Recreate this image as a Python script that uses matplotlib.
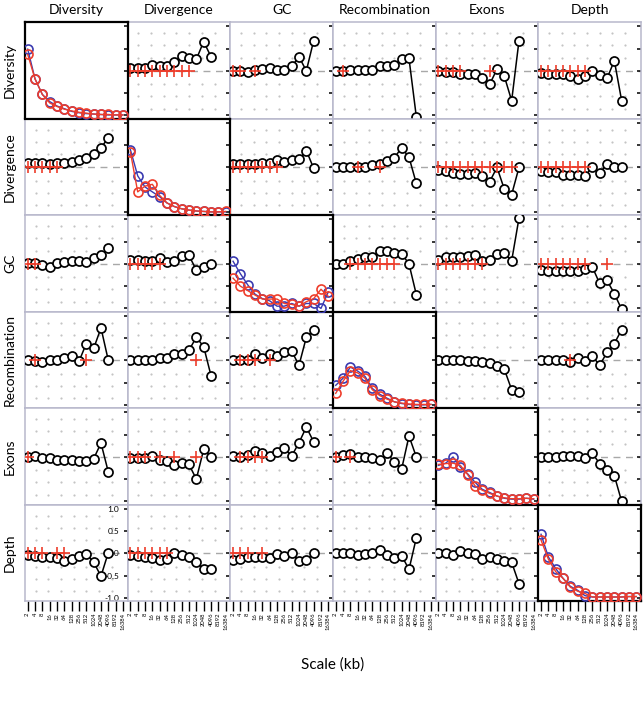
import numpy as np
import matplotlib.pyplot as plt
from matplotlib.ticker import NullLocator

plt.rcParams['font.family'] = ['Lato', 'DejaVu Sans']

variables = ['Diversity', 'Divergence', 'GC', 'Recombination', 'Exons', 'Depth']
scales = [2, 4, 8, 16, 32, 64, 128, 256, 512, 1024, 2048, 4096, 8192, 16384]
pair_scales = scales[:12]

# correlations between variables at each scale (row variable vs column variable)
div_dvg = [0.07, 0.07, 0.07, 0.14, 0.10, 0.12, 0.20, 0.34, 0.30, 0.26, 0.66, 0.32]
div_gc = [0.0, 0.0, -0.03, 0.02, 0.05, 0.07, 0.03, 0.02, 0.10, 0.32, 0.0, 0.68]
div_rec = [0.0, 0.0, 0.01, 0.02, 0.02, 0.03, 0.10, 0.10, 0.13, 0.27, 0.28, -1.03]
div_exo = [0.0, -0.02, -0.03, -0.07, -0.07, -0.06, -0.17, -0.30, 0.04, -0.12, -0.67, 0.68]
div_dep = [-0.04, -0.07, -0.08, -0.08, -0.11, -0.19, -0.11, 0.0, -0.09, -0.17, 0.23, -0.67]

dvg_div = [0.10, 0.10, 0.10, 0.08, 0.10, 0.10, 0.12, 0.16, 0.22, 0.30, 0.44, 0.67]
dvg_gc = [0.08, 0.08, 0.08, 0.08, 0.09, 0.10, 0.17, 0.13, 0.16, 0.18, 0.38, -0.02]
dvg_rec = [0.0, 0.0, 0.0, 0.01, 0.02, 0.06, 0.08, 0.15, 0.22, 0.44, 0.23, -0.36]
dvg_exo = [-0.05, -0.07, -0.12, -0.14, -0.14, -0.12, -0.20, -0.32, 0.0, -0.49, -0.61, 0.0]
dvg_dep = [-0.08, -0.11, -0.11, -0.17, -0.17, -0.18, -0.20, 0.02, -0.13, 0.08, 0.02, 0.0]

gc_div = [0.02, 0.02, -0.02, -0.06, 0.02, 0.05, 0.07, 0.07, 0.05, 0.13, 0.20, 0.36]
gc_dvg = [0.09, 0.09, 0.07, 0.07, 0.13, 0.05, 0.07, 0.17, 0.19, -0.14, -0.06, 0.0]
gc_rec = [0.0, 0.0, 0.06, 0.10, 0.16, 0.16, 0.30, 0.30, 0.25, 0.23, 0.0, -0.69]
gc_exo = [0.09, 0.15, 0.15, 0.15, 0.17, 0.20, 0.07, 0.09, 0.22, 0.24, 0.07, 1.03]
gc_dep = [-0.14, -0.16, -0.16, -0.16, -0.16, -0.17, -0.12, -0.07, -0.44, -0.37, -0.67, -1.02]

rec_div = [0.0, -0.02, -0.03, 0.0, 0.02, 0.06, 0.10, -0.02, 0.38, 0.27, 0.73, 0.0]
rec_dvg = [0.0, 0.0, 0.0, 0.02, 0.05, 0.06, 0.14, 0.14, 0.23, 0.52, 0.31, -0.34]
rec_gc = [0.0, 0.0, 0.02, 0.15, 0.06, 0.14, 0.10, 0.18, 0.21, -0.11, 0.52, 0.69]
rec_exo = [0.0, 0.0, 0.0, 0.0, -0.01, -0.02, -0.04, -0.06, -0.12, -0.20, -0.66, -0.70]
rec_dep = [0.0, 0.0, 0.0, 0.0, -0.03, 0.05, -0.01, 0.10, -0.11, 0.18, 0.38, 0.69]

exo_div = [0.0, 0.02, -0.02, -0.02, -0.06, -0.06, -0.08, -0.09, -0.09, -0.04, 0.31, -0.34]
exo_dvg = [-0.02, -0.02, -0.02, 0.02, -0.08, -0.09, -0.19, -0.14, -0.17, -0.50, 0.17, 0.0]
exo_gc = [0.02, 0.0, 0.04, 0.14, 0.08, 0.02, 0.11, 0.19, 0.02, 0.32, 0.67, 0.34]
exo_rec = [0.0, 0.04, 0.06, 0.0, 0.0, -0.02, -0.06, 0.08, -0.11, -0.27, 0.47, 0.0]
exo_dep = [0.0, 0.0, 0.0, 0.03, 0.03, 0.03, -0.03, 0.08, -0.15, -0.30, -0.42, -1.0]

dep_div = [-0.03, -0.05, -0.08, -0.07, -0.11, -0.17, -0.13, -0.05, -0.01, -0.20, -0.51, 0.02]
dep_dvg = [-0.03, -0.05, -0.07, -0.11, -0.15, -0.13, 0.02, -0.03, -0.08, -0.20, -0.36, -0.34]
dep_gc = [-0.15, -0.13, -0.08, -0.07, -0.08, -0.11, -0.01, -0.05, 0.02, -0.18, -0.15, 0.01]
dep_rec = [0.0, 0.0, 0.0, -0.03, -0.01, 0.02, 0.08, -0.03, -0.11, -0.05, -0.36, 0.35]
dep_exo = [0.0, 0.02, -0.03, 0.06, 0.02, -0.01, -0.13, -0.07, -0.13, -0.18, -0.20, -0.68]

# scales marked with a red cross (drawn on the zero line)
plus_div_dvg = [2, 4, 8, 16, 32, 64, 128, 256, 512]
plus_div_gc = [2, 4, 16]
plus_div_rec = [4]
plus_div_exo = [2, 4, 8, 16, 256]
plus_div_dep = [2, 4, 8, 16, 32, 64, 128]
plus_dvg_div = [2, 4, 8, 16, 32]
plus_dvg_gc = [2, 4, 8, 16, 32, 64, 128]
plus_dvg_rec = [16, 128]
plus_dvg_exo = [2, 4, 8, 16, 32, 64, 128, 256, 512, 1024, 2048]
plus_dvg_dep = [2, 4, 8, 16, 32, 64, 128]
plus_gc_div = [2, 4]
plus_gc_dvg = [2, 4, 8, 16, 32]
plus_gc_rec = [8, 16, 32, 64, 128, 256, 512]
plus_gc_exo = [2, 4, 8, 16, 32, 64, 128]
plus_gc_dep = [2, 4, 8, 16, 32, 64, 128, 1024]
plus_rec_div = [4, 512]
plus_rec_dvg = [1024]
plus_rec_gc = [4, 8, 16, 64]
plus_rec_dep = [32]
plus_exo_div = [2]
plus_exo_dvg = [2, 4, 8, 32, 128, 1024]
plus_exo_gc = [4, 8, 16, 32]
plus_exo_rec = [2, 8]
plus_dep_div = [2, 4, 8, 32, 64]
plus_dep_dvg = [2, 4, 8, 16, 32, 64]
plus_dep_gc = [2, 4, 8, 32]

# diagonal: two curves per variable (blue, red)
div_blue = [0.49, -0.18, -0.53, -0.69, -0.79, -0.85, -0.91, -0.94, -0.96, -0.97, -0.98, -0.99, -0.99, -0.99]
div_red = [0.37, -0.18, -0.53, -0.72, -0.80, -0.86, -0.90, -0.93, -0.95, -0.97, -0.98, -0.98, -0.99, -0.99]
dvg_blue = [0.40, -0.19, -0.44, -0.55, -0.66, -0.80, -0.88, -0.93, -0.96, -0.98, -0.99, -1.0, -1.0, -1.0]
dvg_red = [0.35, -0.55, -0.42, -0.38, -0.63, -0.80, -0.88, -0.93, -0.96, -0.98, -0.99, -1.0, -1.0, -0.99]
gc_blue = [0.06, -0.22, -0.47, -0.68, -0.78, -0.83, -0.95, -0.95, -0.89, -0.95, -0.89, -0.89, -1.0, -0.63]
gc_red = [-0.32, -0.50, -0.60, -0.70, -0.79, -0.79, -0.79, -0.89, -0.91, -0.95, -0.85, -0.78, -0.57, -0.73]
rec_blue = [-0.56, -0.40, -0.15, -0.24, -0.36, -0.63, -0.76, -0.85, -0.93, -0.97, -0.99, -1.0, -1.0, -0.99]
rec_red = [-0.74, -0.47, -0.23, -0.28, -0.40, -0.66, -0.79, -0.87, -0.93, -0.96, -0.98, -0.99, -0.99, -0.99]
exo_blue = [-0.19, -0.14, 0.0, -0.23, -0.38, -0.57, -0.73, -0.80, -0.88, -0.93, -0.95, -0.95, -0.93, -0.95]
exo_red = [-0.17, -0.15, -0.14, -0.19, -0.40, -0.65, -0.75, -0.82, -0.88, -0.92, -0.94, -0.94, -0.93, -0.94]
dep_blue = [0.43, -0.08, -0.34, -0.56, -0.74, -0.83, -0.95, -0.98, -0.98, -0.98, -0.98, -0.98, -0.97, -0.97]
dep_red = [0.30, -0.13, -0.41, -0.56, -0.76, -0.85, -0.90, -0.98, -0.98, -0.98, -0.98, -0.98, -0.97, -0.97]

pairs = {
    (0, 1): (div_dvg, plus_div_dvg), (0, 2): (div_gc, plus_div_gc), (0, 3): (div_rec, plus_div_rec),
    (0, 4): (div_exo, plus_div_exo), (0, 5): (div_dep, plus_div_dep),
    (1, 0): (dvg_div, plus_dvg_div), (1, 2): (dvg_gc, plus_dvg_gc), (1, 3): (dvg_rec, plus_dvg_rec),
    (1, 4): (dvg_exo, plus_dvg_exo), (1, 5): (dvg_dep, plus_dvg_dep),
    (2, 0): (gc_div, plus_gc_div), (2, 1): (gc_dvg, plus_gc_dvg), (2, 3): (gc_rec, plus_gc_rec),
    (2, 4): (gc_exo, plus_gc_exo), (2, 5): (gc_dep, plus_gc_dep),
    (3, 0): (rec_div, plus_rec_div), (3, 1): (rec_dvg, plus_rec_dvg), (3, 2): (rec_gc, plus_rec_gc),
    (3, 4): (rec_exo, []), (3, 5): (rec_dep, plus_rec_dep),
    (4, 0): (exo_div, plus_exo_div), (4, 1): (exo_dvg, plus_exo_dvg), (4, 2): (exo_gc, plus_exo_gc),
    (4, 3): (exo_rec, plus_exo_rec), (4, 5): (exo_dep, []),
    (5, 0): (dep_div, plus_dep_div), (5, 1): (dep_dvg, plus_dep_dvg), (5, 2): (dep_gc, plus_dep_gc),
    (5, 3): (dep_rec, []), (5, 4): (dep_exo, []),
}
diagonal = [(div_blue, div_red), (dvg_blue, dvg_red), (gc_blue, gc_red),
            (rec_blue, rec_red), (exo_blue, exo_red), (dep_blue, dep_red)]

RED = '#ee3d2b'
BLUE = '#3a3ab0'
FRAME = '#b8b8cc'

# background dot grid (log2 of scale, correlation)
dot_x, dot_y = np.meshgrid(2.0 ** np.array([2.1, 3.83, 5.56, 7.29, 9.02, 10.75, 12.48]),
                           [-0.85, -0.575, -0.3, 0.3, 0.575, 0.85])

fig = plt.figure(figsize=(6.44, 7.01), dpi=100)
L, R, T, B = 25 / 644, 641 / 644, 1 - 22 / 701, 1 - 601 / 701
gs = fig.add_gridspec(6, 6, left=L, right=R, top=T, bottom=B, wspace=0, hspace=0)

for r in range(6):
    for c in range(6):
        ax = fig.add_subplot(gs[r, c])
        ax.set_xscale('log', base=2)
        if r == c:
            blue, red = diagonal[r]
            ax.plot(scales, blue, '-o', color=BLUE, mfc='none', ms=6.5, mew=1.2, lw=1.0, zorder=3)
            ax.plot(scales, red, '-o', color=RED, mfc='none', ms=6.5, mew=1.2, lw=1.0, zorder=4)
            for s in ax.spines.values():
                s.set_color('black')
                s.set_linewidth(1.6)
            ax.set_zorder(3)
        else:
            vals, plus = pairs[(r, c)]
            ax.scatter(dot_x.ravel(), dot_y.ravel(), s=2.5, color='#c4c4c4', lw=0, zorder=1)
            ax.axhline(0, color='#a8a8a8', lw=1.0, ls=(0, (5, 4)), zorder=1.5)
            ax.plot(pair_scales, vals, '-o', color='black', mfc='white', ms=6.5, mew=1.25,
                    lw=1.1, zorder=3)
            ax.plot(plus, np.zeros(len(plus)), '+', color=RED, ms=8, mew=1.2,
                    ls='none', zorder=4)
            for s in ax.spines.values():
                s.set_color(FRAME)
                s.set_linewidth(1.1)
            ax.set_zorder(1)

        ax.set_xlim(2 ** 0.63, 2 ** 14.64)
        ax.set_ylim(-1.07, 1.1)
        ax.set_xticks(scales)
        ax.xaxis.set_minor_locator(NullLocator())
        ax.set_yticks([-1, -0.5, 0, 0.5, 1])
        ax.yaxis.tick_right()
        ax.tick_params(axis='y', direction='in', length=3, width=1.1, color='black',
                       labelright=False, labelleft=False)
        if r == 5:
            ax.set_xticklabels([str(s) for s in scales], rotation=90, fontsize=4.2)
            ax.tick_params(axis='x', direction='out', length=7.5, width=1.0, pad=1)
        else:
            ax.tick_params(axis='x', bottom=False, labelbottom=False)
        if r == 5 and c == 0:
            ax.set_yticklabels(['-1.0', '-0.5', '0.0', '0.5', '1.0'])
            ax.tick_params(axis='y', labelright=True, pad=-6, labelsize=6)
            for lbl in ax.get_yticklabels():
                lbl.set_horizontalalignment('right')

col_w = (R - L) / 6
row_h = (T - B) / 6
for i, name in enumerate(variables):
    fig.text(L + (i + 0.5) * col_w, 1 - 10 / 701, name, ha='center', va='center', fontsize=10)
    fig.text(10 / 644, T - (i + 0.5) * row_h, name, ha='center', va='center',
             rotation=90, fontsize=10)

fig.text((L + R) / 2, 1 - 665 / 701, 'Scale (kb)', ha='center', va='center', fontsize=11)

fig.savefig('out.png', dpi=100)
